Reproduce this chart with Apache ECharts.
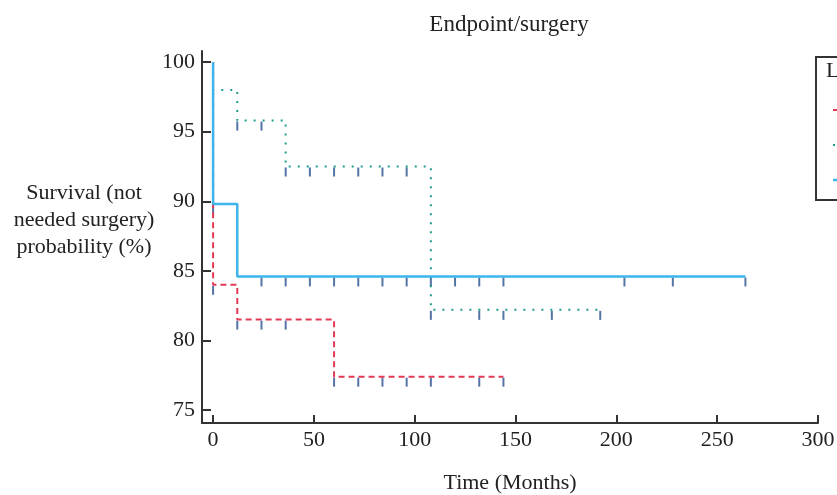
<!DOCTYPE html>
<html><head><meta charset="utf-8">
<script src="https://cdn.jsdelivr.net/npm/echarts@6/dist/echarts.min.js"></script>
<style>html,body{margin:0;padding:0;background:#fff}#c{width:837px;height:495px}</style>
</head><body><div id="c"></div>
<script>
// ---- data ----
const xTicks = [0, 50, 100, 150, 200, 250, 300];
const yTicks = [75, 80, 85, 90, 95, 100];
const seriesNames = ['Group 1', 'Group 2', 'Group 3'];
// Kaplan-Meier steps (time in months, survival %)
const redTimes = [0, 0, 12, 60, 144];
const redSurv = [100, 84.0, 81.5, 77.4, 77.4];
const tealTimes = [0, 0, 12, 36, 108, 192];
const tealSurv = [100, 98.0, 95.8, 92.5, 82.2, 82.2];
const blueTimes = [0, 0, 12, 264];
const blueSurv = [100, 89.8, 84.6, 84.6];
// censoring times
const redCensor = [0, 12, 24, 36, 60, 72, 84, 96, 108, 132, 144];
const tealCensor = [12, 24, 36, 48, 60, 72, 84, 96, 108, 132, 144, 168, 192];
const blueCensor = [0, 24, 36, 48, 60, 72, 84, 96, 108, 120, 132, 144, 204, 228, 264];

// ---- helpers ----
function pairs(ts, vs) { return ts.map((t, i) => [t, vs[i]]); }
function survAt(ts, vs, t) { let v = vs[0]; for (let i = 0; i < ts.length; i++) if (ts[i] <= t) v = vs[i]; return v; }
function censorPts(cs, ts, vs) { return cs.map(t => [t, survAt(ts, vs, t)]); }

const FONT = 'Liberation Serif';
const colors = { red: '#E23A55', teal: '#1E9C8C', blue: '#3DB5EC', censor: '#2B5190' };
const styles = [
  { color: colors.red, type: [6, 4], width: 2 },
  { color: colors.teal, type: [2, 7], width: 2 },
  { color: colors.blue, type: 'solid', width: 2.5 }
];

function lineSeries(i, data) {
  const s = styles[i];
  return { name: seriesNames[i], type: 'line', step: 'end', data, symbol: 'none', showSymbol: false,
    lineStyle: { color: s.color, type: s.type, width: s.width, cap: 'butt' }, itemStyle: { color: s.color }, z: 3, animation: false };
}
function censorSeries(data) {
  return { type: 'scatter', data, symbol: 'rect', symbolSize: [2, 9], symbolOffset: [0, 5.5],
    itemStyle: { color: colors.censor }, z: 2, animation: false, silent: true };
}

// legend box (clipped at the right edge, as in the original)
const legendGraphics = [
  { type: 'rect', z: 50, shape: { x: 816, y: 57, width: 80, height: 143 }, style: { fill: '#fff', stroke: '#333', lineWidth: 2 } },
  { type: 'text', x: 826, y: 60, z: 51, style: { text: 'Legend', font: '22px "Liberation Serif"', fill: '#222' } }
];
[110, 145, 180].forEach((y, i) => {
  const s = styles[i];
  legendGraphics.push({ type: 'line', z: 51, shape: { x1: 833, y1: y, x2: 860, y2: y },
    style: { stroke: s.color, lineWidth: s.width, lineDash: Array.isArray(s.type) ? s.type : null } });
});

const chart = echarts.init(document.getElementById('c'), null, { renderer: 'canvas' });
chart.setOption({
  animation: false,
  backgroundColor: '#fff',
  grid: { left: 202, right: 19, top: 51, bottom: 72, containLabel: false, outerBoundsMode: 'none' },
  xAxis: {
    type: 'value', min: -5.5, max: 300,
    axisLine: { onZero: false, lineStyle: { color: '#333', width: 2 } },
    axisTick: { inside: true, length: 8, customValues: xTicks, lineStyle: { color: '#333', width: 2 } },
    axisLabel: { customValues: xTicks, margin: 6, color: '#222', fontFamily: FONT, fontSize: 22 },
    splitLine: { show: false },
    name: 'Time (Months)', nameLocation: 'middle', nameGap: 49,
    nameTextStyle: { color: '#222', fontFamily: FONT, fontSize: 22 }
  },
  yAxis: {
    type: 'value', min: 74.07, max: 100.8,
    axisLine: { show: true, onZero: false, lineStyle: { color: '#333', width: 2 } },
    axisTick: { show: true, inside: true, length: 9, customValues: yTicks, lineStyle: { color: '#333', width: 2 } },
    axisLabel: { customValues: yTicks, margin: 7, color: '#222', fontFamily: FONT, fontSize: 22 },
    splitLine: { show: false }
  },
  graphic: [
    { type: 'text', x: 509, y: 25, z: 5, style: { text: 'Endpoint/surgery', textAlign: 'center', textVerticalAlign: 'middle', font: '23px "Liberation Serif"', fill: '#222' } },
    { type: 'text', x: 84, y: 220, z: 5, style: { text: 'Survival (not\nneeded surgery)\nprobability (%)', textAlign: 'center', textVerticalAlign: 'middle', lineHeight: 27, font: '22px "Liberation Serif"', fill: '#222' } }
  ].concat(legendGraphics),
  series: [
    lineSeries(0, pairs(redTimes, redSurv)),
    lineSeries(1, pairs(tealTimes, tealSurv)),
    lineSeries(2, pairs(blueTimes, blueSurv)),
    censorSeries(censorPts(redCensor, redTimes, redSurv)),
    censorSeries(censorPts(tealCensor, tealTimes, tealSurv)),
    censorSeries(censorPts(blueCensor, blueTimes, blueSurv))
  ]
});
</script>
</body></html>
